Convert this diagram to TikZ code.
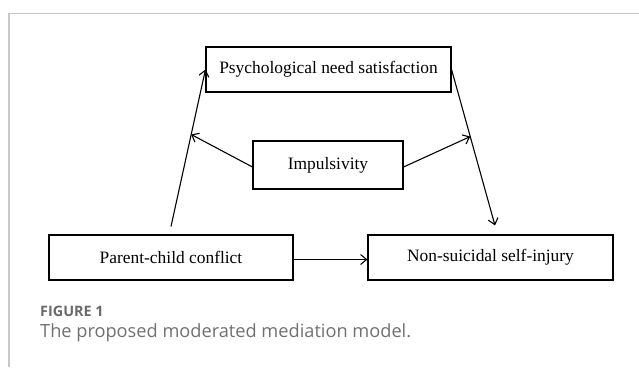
\documentclass[tikz,border=0pt]{standalone}
\usepackage{fontspec}
\setmainfont{Liberation Serif}
\newfontfamily\capfont{Open Sans}
\usetikzlibrary{arrows.meta,calc}
\definecolor{framegray}{HTML}{C8C8C8}
\definecolor{capgray}{HTML}{707070}
\definecolor{figgray}{HTML}{6A6A6A}
\begin{document}
\begin{tikzpicture}[x=1pt,y=-1pt,
  varbox/.style={draw,line width=1.1pt,minimum width=245pt,minimum height=45pt,inner sep=0pt,font=\fontsize{17.4}{20}\selectfont},
  link/.style={line width=1.1pt,-{Straight Barb[length=6pt,width=10pt,line width=1.1pt]}},
  framestyle/.style={draw=framegray,line width=1.2pt}]
\useasboundingbox (0,0) rectangle (639,367);
\draw[framestyle] (639,13.5) -- (9,13.5) -- (9,367);
\node[varbox] (psn) at (328.5,69.5) {Psychological need satisfaction};
\node[varbox,minimum width=150pt,minimum height=48pt] (imp) at (328,165) {Impulsivity};
\node[varbox,minimum width=244pt] (pcc) at (171,257.5) {Parent-child conflict};
\node[varbox] (nssi) at (490.5,257.5) {Non-suicidal self-injury};
\coordinate (lstart) at ([yshift=8pt]pcc.north);
\coordinate (rend) at ([xshift=4.5pt,yshift=9pt]nssi.north);
\draw[link] (lstart) -- (psn.west);
\draw[link] (psn.east) -- (rend);
\draw[link] ([yshift=-2pt]imp.west) -- ($(lstart)!0.586!(psn.west)$);
\draw[link] ([yshift=-2pt]imp.east) -- ($(psn.east)!0.43!(rend)$);
\draw[link] ([yshift=-2pt]pcc.east) -- ([yshift=-2pt]nssi.west);
\node[anchor=base west,inner sep=0pt,text=figgray,font=\capfont\bfseries\fontsize{14.4}{16}\selectfont] (fig) at (40,316) {FIGURE 1};
\node[anchor=base west,inner sep=0pt,text=capgray,font=\capfont\fontsize{18.2}{21}\selectfont] (cap) at (40,337) {The proposed moderated mediation model.};
\end{tikzpicture}
\end{document}
